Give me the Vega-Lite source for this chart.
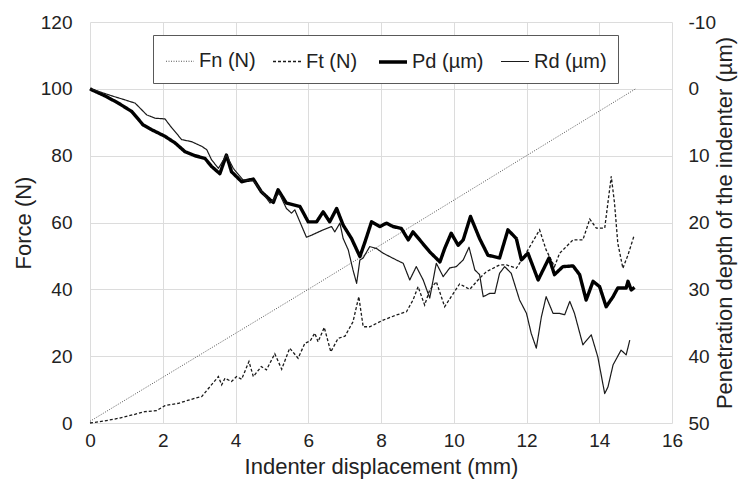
{
  "$schema": "https://vega.github.io/schema/vega-lite/v6.json",
  "width": 582,
  "height": 401,
  "autosize": {"type": "none"},
  "padding": {"left": 90, "top": 22, "right": 76, "bottom": 65},
  "background": "white",
  "config": {
    "view": {"stroke": null},
    "font": "Liberation Sans",
    "axis": {
      "grid": true,
      "gridColor": "#dcdcdc",
      "gridWidth": 1,
      "domain": false,
      "ticks": false,
      "labelFlush": false,
      "labelFontSize": 19,
      "labelColor": "#222",
      "labelFont": "Liberation Sans",
      "titleFont": "Liberation Sans",
      "titleFontWeight": "normal",
      "titleFontSize": 22,
      "titleColor": "#222"
    },
    "legend": {
      "orient": "none",
      "legendX": 63,
      "legendY": 13,
      "direction": "horizontal",
      "columns": 4,
      "fillColor": "white",
      "strokeColor": "#595959",
      "padding": 11,
      "labelFontSize": 20,
      "labelFont": "Liberation Sans",
      "labelColor": "#222",
      "labelOffset": 3,
      "columnPadding": 14,
      "symbolType": "stroke",
      "symbolSize": 784
    }
  },
  "datasets": {
    "forces": [
      {"series": "Fn (N)", "disp": 0, "force": 0.5},
      {"series": "Fn (N)", "disp": 6, "force": 40},
      {"series": "Fn (N)", "disp": 15, "force": 100},
      {"series": "Ft (N)", "disp": 0, "force": 0},
      {"series": "Ft (N)", "disp": 0.4, "force": 0.6},
      {"series": "Ft (N)", "disp": 0.78, "force": 1.4},
      {"series": "Ft (N)", "disp": 1.2, "force": 2.5},
      {"series": "Ft (N)", "disp": 1.51, "force": 3.4},
      {"series": "Ft (N)", "disp": 1.83, "force": 3.7},
      {"series": "Ft (N)", "disp": 2.06, "force": 5.2},
      {"series": "Ft (N)", "disp": 2.43, "force": 5.9},
      {"series": "Ft (N)", "disp": 2.88, "force": 7.4},
      {"series": "Ft (N)", "disp": 3.07, "force": 7.9},
      {"series": "Ft (N)", "disp": 3.3, "force": 10.9},
      {"series": "Ft (N)", "disp": 3.53, "force": 13.9},
      {"series": "Ft (N)", "disp": 3.62, "force": 11.4},
      {"series": "Ft (N)", "disp": 3.71, "force": 13.4},
      {"series": "Ft (N)", "disp": 3.89, "force": 12.4},
      {"series": "Ft (N)", "disp": 4.03, "force": 13.9},
      {"series": "Ft (N)", "disp": 4.17, "force": 13.1},
      {"series": "Ft (N)", "disp": 4.37, "force": 18.4},
      {"series": "Ft (N)", "disp": 4.49, "force": 13.9},
      {"series": "Ft (N)", "disp": 4.71, "force": 16.9},
      {"series": "Ft (N)", "disp": 4.85, "force": 15.9},
      {"series": "Ft (N)", "disp": 5.08, "force": 20.7},
      {"series": "Ft (N)", "disp": 5.27, "force": 16.1},
      {"series": "Ft (N)", "disp": 5.49, "force": 22.4},
      {"series": "Ft (N)", "disp": 5.72, "force": 19.4},
      {"series": "Ft (N)", "disp": 5.91, "force": 23.9},
      {"series": "Ft (N)", "disp": 6.05, "force": 24.5},
      {"series": "Ft (N)", "disp": 6.18, "force": 26.9},
      {"series": "Ft (N)", "disp": 6.27, "force": 24.3},
      {"series": "Ft (N)", "disp": 6.44, "force": 28.6},
      {"series": "Ft (N)", "disp": 6.62, "force": 21.3},
      {"series": "Ft (N)", "disp": 6.82, "force": 25.3},
      {"series": "Ft (N)", "disp": 7.01, "force": 26.0},
      {"series": "Ft (N)", "disp": 7.23, "force": 30.3},
      {"series": "Ft (N)", "disp": 7.39, "force": 37.8},
      {"series": "Ft (N)", "disp": 7.51, "force": 28.8},
      {"series": "Ft (N)", "disp": 7.69, "force": 28.8},
      {"series": "Ft (N)", "disp": 8.06, "force": 30.8},
      {"series": "Ft (N)", "disp": 8.42, "force": 32.3},
      {"series": "Ft (N)", "disp": 8.7, "force": 33.3},
      {"series": "Ft (N)", "disp": 8.88, "force": 36.8},
      {"series": "Ft (N)", "disp": 9.02, "force": 40.8},
      {"series": "Ft (N)", "disp": 9.2, "force": 35.3},
      {"series": "Ft (N)", "disp": 9.34, "force": 39.8},
      {"series": "Ft (N)", "disp": 9.52, "force": 42.3},
      {"series": "Ft (N)", "disp": 9.75, "force": 34.8},
      {"series": "Ft (N)", "disp": 9.93, "force": 37.8},
      {"series": "Ft (N)", "disp": 10.16, "force": 41.6},
      {"series": "Ft (N)", "disp": 10.44, "force": 40.0},
      {"series": "Ft (N)", "disp": 10.71, "force": 43.3},
      {"series": "Ft (N)", "disp": 10.9, "force": 45.3},
      {"series": "Ft (N)", "disp": 11.26, "force": 47.3},
      {"series": "Ft (N)", "disp": 11.45, "force": 47.3},
      {"series": "Ft (N)", "disp": 11.72, "force": 46.3},
      {"series": "Ft (N)", "disp": 12.04, "force": 51.8},
      {"series": "Ft (N)", "disp": 12.36, "force": 57.8},
      {"series": "Ft (N)", "disp": 12.54, "force": 51.8},
      {"series": "Ft (N)", "disp": 12.77, "force": 46.8},
      {"series": "Ft (N)", "disp": 12.91, "force": 50.8},
      {"series": "Ft (N)", "disp": 13.28, "force": 54.8},
      {"series": "Ft (N)", "disp": 13.55, "force": 54.8},
      {"series": "Ft (N)", "disp": 13.74, "force": 61.0},
      {"series": "Ft (N)", "disp": 13.92, "force": 58.3},
      {"series": "Ft (N)", "disp": 14.15, "force": 58.3},
      {"series": "Ft (N)", "disp": 14.33, "force": 73.8},
      {"series": "Ft (N)", "disp": 14.42, "force": 65.8},
      {"series": "Ft (N)", "disp": 14.51, "force": 53.8},
      {"series": "Ft (N)", "disp": 14.65, "force": 46.3},
      {"series": "Ft (N)", "disp": 14.79, "force": 50.3},
      {"series": "Ft (N)", "disp": 14.95, "force": 55.8}
    ],
    "depths": [
      {"series": "Pd (µm)", "disp": 0, "depth": 0},
      {"series": "Pd (µm)", "disp": 0.05, "depth": 0.15},
      {"series": "Pd (µm)", "disp": 0.41, "depth": 1.05},
      {"series": "Pd (µm)", "disp": 0.78, "depth": 2.14},
      {"series": "Pd (µm)", "disp": 1.15, "depth": 3.4},
      {"series": "Pd (µm)", "disp": 1.46, "depth": 5.4},
      {"series": "Pd (µm)", "disp": 1.69, "depth": 6.1},
      {"series": "Pd (µm)", "disp": 2.06, "depth": 7.1},
      {"series": "Pd (µm)", "disp": 2.34, "depth": 8.1},
      {"series": "Pd (µm)", "disp": 2.61, "depth": 9.4},
      {"series": "Pd (µm)", "disp": 2.88, "depth": 10.0},
      {"series": "Pd (µm)", "disp": 3.16, "depth": 10.4},
      {"series": "Pd (µm)", "disp": 3.34, "depth": 11.6},
      {"series": "Pd (µm)", "disp": 3.57, "depth": 12.7},
      {"series": "Pd (µm)", "disp": 3.75, "depth": 9.9},
      {"series": "Pd (µm)", "disp": 3.89, "depth": 12.4},
      {"series": "Pd (µm)", "disp": 4.17, "depth": 13.9},
      {"series": "Pd (µm)", "disp": 4.49, "depth": 13.5},
      {"series": "Pd (µm)", "disp": 4.71, "depth": 15.4},
      {"series": "Pd (µm)", "disp": 4.95, "depth": 16.6},
      {"series": "Pd (µm)", "disp": 5.04, "depth": 17.0},
      {"series": "Pd (µm)", "disp": 5.17, "depth": 15.1},
      {"series": "Pd (µm)", "disp": 5.4, "depth": 17.1},
      {"series": "Pd (µm)", "disp": 5.77, "depth": 17.6},
      {"series": "Pd (µm)", "disp": 6.0, "depth": 19.9},
      {"series": "Pd (µm)", "disp": 6.23, "depth": 19.9},
      {"series": "Pd (µm)", "disp": 6.41, "depth": 18.4},
      {"series": "Pd (µm)", "disp": 6.59, "depth": 19.9},
      {"series": "Pd (µm)", "disp": 6.78, "depth": 17.9},
      {"series": "Pd (µm)", "disp": 6.96, "depth": 20.4},
      {"series": "Pd (µm)", "disp": 7.19, "depth": 22.4},
      {"series": "Pd (µm)", "disp": 7.42, "depth": 25.1},
      {"series": "Pd (µm)", "disp": 7.56, "depth": 22.9},
      {"series": "Pd (µm)", "disp": 7.74, "depth": 19.9},
      {"series": "Pd (µm)", "disp": 7.97, "depth": 20.6},
      {"series": "Pd (µm)", "disp": 8.15, "depth": 20.1},
      {"series": "Pd (µm)", "disp": 8.33, "depth": 20.6},
      {"series": "Pd (µm)", "disp": 8.56, "depth": 20.9},
      {"series": "Pd (µm)", "disp": 8.75, "depth": 22.6},
      {"series": "Pd (µm)", "disp": 8.88, "depth": 21.4},
      {"series": "Pd (µm)", "disp": 9.11, "depth": 22.9},
      {"series": "Pd (µm)", "disp": 9.34, "depth": 24.4},
      {"series": "Pd (µm)", "disp": 9.62, "depth": 25.9},
      {"series": "Pd (µm)", "disp": 9.75, "depth": 23.9},
      {"series": "Pd (µm)", "disp": 9.93, "depth": 21.6},
      {"series": "Pd (µm)", "disp": 10.12, "depth": 23.4},
      {"series": "Pd (µm)", "disp": 10.26, "depth": 22.6},
      {"series": "Pd (µm)", "disp": 10.46, "depth": 19.1},
      {"series": "Pd (µm)", "disp": 10.71, "depth": 22.4},
      {"series": "Pd (µm)", "disp": 10.94, "depth": 24.9},
      {"series": "Pd (µm)", "disp": 11.26, "depth": 25.3},
      {"series": "Pd (µm)", "disp": 11.49, "depth": 21.1},
      {"series": "Pd (µm)", "disp": 11.72, "depth": 22.4},
      {"series": "Pd (µm)", "disp": 11.86, "depth": 25.6},
      {"series": "Pd (µm)", "disp": 12.04, "depth": 24.6},
      {"series": "Pd (µm)", "disp": 12.32, "depth": 28.6},
      {"series": "Pd (µm)", "disp": 12.62, "depth": 25.3},
      {"series": "Pd (µm)", "disp": 12.77, "depth": 27.8},
      {"series": "Pd (µm)", "disp": 13.0, "depth": 26.6},
      {"series": "Pd (µm)", "disp": 13.28, "depth": 26.5},
      {"series": "Pd (µm)", "disp": 13.46, "depth": 27.8},
      {"series": "Pd (µm)", "disp": 13.64, "depth": 31.6},
      {"series": "Pd (µm)", "disp": 13.83, "depth": 28.8},
      {"series": "Pd (µm)", "disp": 14.01, "depth": 29.6},
      {"series": "Pd (µm)", "disp": 14.19, "depth": 32.6},
      {"series": "Pd (µm)", "disp": 14.38, "depth": 31.1},
      {"series": "Pd (µm)", "disp": 14.51, "depth": 29.8},
      {"series": "Pd (µm)", "disp": 14.74, "depth": 29.8},
      {"series": "Pd (µm)", "disp": 14.79, "depth": 28.8},
      {"series": "Pd (µm)", "disp": 14.88, "depth": 30.1},
      {"series": "Pd (µm)", "disp": 14.97, "depth": 29.7},
      {"series": "Rd (µm)", "disp": 0, "depth": 0},
      {"series": "Rd (µm)", "disp": 0.05, "depth": 0.05},
      {"series": "Rd (µm)", "disp": 0.6, "depth": 1.05},
      {"series": "Rd (µm)", "disp": 0.96, "depth": 1.65},
      {"series": "Rd (µm)", "disp": 1.24, "depth": 2.14},
      {"series": "Rd (µm)", "disp": 1.56, "depth": 3.9},
      {"series": "Rd (µm)", "disp": 1.79, "depth": 4.4},
      {"series": "Rd (µm)", "disp": 2.06, "depth": 4.5},
      {"series": "Rd (µm)", "disp": 2.2, "depth": 5.5},
      {"series": "Rd (µm)", "disp": 2.52, "depth": 7.6},
      {"series": "Rd (µm)", "disp": 2.79, "depth": 7.9},
      {"series": "Rd (µm)", "disp": 3.07, "depth": 8.6},
      {"series": "Rd (µm)", "disp": 3.21, "depth": 9.1},
      {"series": "Rd (µm)", "disp": 3.34, "depth": 10.6},
      {"series": "Rd (µm)", "disp": 3.53, "depth": 11.9},
      {"series": "Rd (µm)", "disp": 3.75, "depth": 9.9},
      {"series": "Rd (µm)", "disp": 3.94, "depth": 11.9},
      {"series": "Rd (µm)", "disp": 4.2, "depth": 13.6},
      {"series": "Rd (µm)", "disp": 4.5, "depth": 13.8},
      {"series": "Rd (µm)", "disp": 4.75, "depth": 15.6},
      {"series": "Rd (µm)", "disp": 4.95, "depth": 17.1},
      {"series": "Rd (µm)", "disp": 5.2, "depth": 15.6},
      {"series": "Rd (µm)", "disp": 5.4, "depth": 17.9},
      {"series": "Rd (µm)", "disp": 5.54, "depth": 18.6},
      {"series": "Rd (µm)", "disp": 5.63, "depth": 18.1},
      {"series": "Rd (µm)", "disp": 5.77, "depth": 19.9},
      {"series": "Rd (µm)", "disp": 5.95, "depth": 22.2},
      {"series": "Rd (µm)", "disp": 6.09, "depth": 21.9},
      {"series": "Rd (µm)", "disp": 6.41, "depth": 21.1},
      {"series": "Rd (µm)", "disp": 6.64, "depth": 20.6},
      {"series": "Rd (µm)", "disp": 6.73, "depth": 21.4},
      {"series": "Rd (µm)", "disp": 6.87, "depth": 20.1},
      {"series": "Rd (µm)", "disp": 6.96, "depth": 22.4},
      {"series": "Rd (µm)", "disp": 7.1, "depth": 24.1},
      {"series": "Rd (µm)", "disp": 7.23, "depth": 27.1},
      {"series": "Rd (µm)", "disp": 7.33, "depth": 29.1},
      {"series": "Rd (µm)", "disp": 7.42, "depth": 25.6},
      {"series": "Rd (µm)", "disp": 7.51, "depth": 25.3},
      {"series": "Rd (µm)", "disp": 7.69, "depth": 23.6},
      {"series": "Rd (µm)", "disp": 7.88, "depth": 23.9},
      {"series": "Rd (µm)", "disp": 8.06, "depth": 24.6},
      {"series": "Rd (µm)", "disp": 8.24, "depth": 25.1},
      {"series": "Rd (µm)", "disp": 8.42, "depth": 25.6},
      {"series": "Rd (µm)", "disp": 8.61, "depth": 26.1},
      {"series": "Rd (µm)", "disp": 8.79, "depth": 28.6},
      {"series": "Rd (µm)", "disp": 8.97, "depth": 26.6},
      {"series": "Rd (µm)", "disp": 9.16, "depth": 28.6},
      {"series": "Rd (µm)", "disp": 9.34, "depth": 31.3},
      {"series": "Rd (µm)", "disp": 9.52, "depth": 26.1},
      {"series": "Rd (µm)", "disp": 9.71, "depth": 28.1},
      {"series": "Rd (µm)", "disp": 9.89, "depth": 26.8},
      {"series": "Rd (µm)", "disp": 10.07, "depth": 26.6},
      {"series": "Rd (µm)", "disp": 10.26, "depth": 25.6},
      {"series": "Rd (µm)", "disp": 10.42, "depth": 23.7},
      {"series": "Rd (µm)", "disp": 10.58, "depth": 27.1},
      {"series": "Rd (µm)", "disp": 10.71, "depth": 27.8},
      {"series": "Rd (µm)", "disp": 10.81, "depth": 31.1},
      {"series": "Rd (µm)", "disp": 10.99, "depth": 30.6},
      {"series": "Rd (µm)", "disp": 11.13, "depth": 30.6},
      {"series": "Rd (µm)", "disp": 11.26, "depth": 27.6},
      {"series": "Rd (µm)", "disp": 11.4, "depth": 26.6},
      {"series": "Rd (µm)", "disp": 11.58, "depth": 27.6},
      {"series": "Rd (µm)", "disp": 11.81, "depth": 31.6},
      {"series": "Rd (µm)", "disp": 12.0, "depth": 33.6},
      {"series": "Rd (µm)", "disp": 12.13, "depth": 36.6},
      {"series": "Rd (µm)", "disp": 12.27, "depth": 38.8},
      {"series": "Rd (µm)", "disp": 12.41, "depth": 34.1},
      {"series": "Rd (µm)", "disp": 12.54, "depth": 31.1},
      {"series": "Rd (µm)", "disp": 12.73, "depth": 33.6},
      {"series": "Rd (µm)", "disp": 12.91, "depth": 33.6},
      {"series": "Rd (µm)", "disp": 13.05, "depth": 33.8},
      {"series": "Rd (µm)", "disp": 13.19, "depth": 31.8},
      {"series": "Rd (µm)", "disp": 13.32, "depth": 33.6},
      {"series": "Rd (µm)", "disp": 13.55, "depth": 38.3},
      {"series": "Rd (µm)", "disp": 13.78, "depth": 36.8},
      {"series": "Rd (µm)", "disp": 13.96, "depth": 40.1},
      {"series": "Rd (µm)", "disp": 14.15, "depth": 45.6},
      {"series": "Rd (µm)", "disp": 14.24, "depth": 44.6},
      {"series": "Rd (µm)", "disp": 14.38, "depth": 41.3},
      {"series": "Rd (µm)", "disp": 14.6, "depth": 39.1},
      {"series": "Rd (µm)", "disp": 14.74, "depth": 39.8},
      {"series": "Rd (µm)", "disp": 14.84, "depth": 37.6}
    ]
  },
  "layer": [
    {
      "data": {"name": "forces"},
      "mark": {"type": "line", "strokeCap": "butt"},
      "encoding": {
        "x": {
          "field": "disp", "type": "quantitative",
          "scale": {"domain": [0, 16], "nice": false},
          "axis": {"values": [0, 2, 4, 6, 8, 10, 12, 14, 16], "title": "Indenter displacement (mm)", "labelPadding": 8, "titlePadding": 6}
        },
        "y": {
          "field": "force", "type": "quantitative",
          "scale": {"domain": [0, 120], "nice": false},
          "axis": {"values": [0, 20, 40, 60, 80, 100, 120], "title": "Force (N)", "orient": "left", "labelPadding": 18, "titlePadding": 5}
        },
        "color": {"field": "series", "type": "ordinal", "scale": {"domain": ["Fn (N)", "Ft (N)", "Pd (µm)", "Rd (µm)"], "range": ["#555555", "#1a1a1a", "#000000", "#1a1a1a"]}, "legend": {"title": null}},
        "strokeDash": {"field": "series", "type": "ordinal", "scale": {"domain": ["Fn (N)", "Ft (N)", "Pd (µm)", "Rd (µm)"], "range": [[1, 1.5], [3, 2], [1, 0], [1, 0]]}, "legend": {"title": null}},
        "strokeWidth": {"field": "series", "type": "ordinal", "scale": {"type": "ordinal", "domain": ["Fn (N)", "Ft (N)", "Pd (µm)", "Rd (µm)"], "range": [1, 1.3, 3.4, 1.2]}, "legend": {"title": null}}
      }
    },
    {
      "data": {"name": "depths"},
      "mark": {"type": "line", "strokeJoin": "round"},
      "encoding": {
        "x": {"field": "disp", "type": "quantitative", "scale": {"domain": [0, 16], "nice": false}},
        "y": {
          "field": "depth", "type": "quantitative",
          "scale": {"domain": [-10, 50], "nice": false, "zero": false, "reverse": true},
          "axis": {"values": [-10, 0, 10, 20, 30, 40, 50], "labelExpr": "'' + datum.value", "title": "Penetration depth of the indenter (µm)", "orient": "right", "grid": false, "labelPadding": 16, "titlePadding": 21, "titleAngle": 270}
        },
        "color": {"field": "series", "type": "ordinal", "scale": {"domain": ["Fn (N)", "Ft (N)", "Pd (µm)", "Rd (µm)"], "range": ["#555555", "#1a1a1a", "#000000", "#1a1a1a"]}, "legend": {"title": null}},
        "strokeDash": {"field": "series", "type": "ordinal", "scale": {"domain": ["Fn (N)", "Ft (N)", "Pd (µm)", "Rd (µm)"], "range": [[1, 1.5], [3, 2], [1, 0], [1, 0]]}, "legend": {"title": null}},
        "strokeWidth": {"field": "series", "type": "ordinal", "scale": {"type": "ordinal", "domain": ["Fn (N)", "Ft (N)", "Pd (µm)", "Rd (µm)"], "range": [1, 1.3, 3.4, 1.2]}, "legend": {"title": null}}
      }
    }
  ],
  "resolve": {"scale": {"y": "independent"}}
}
